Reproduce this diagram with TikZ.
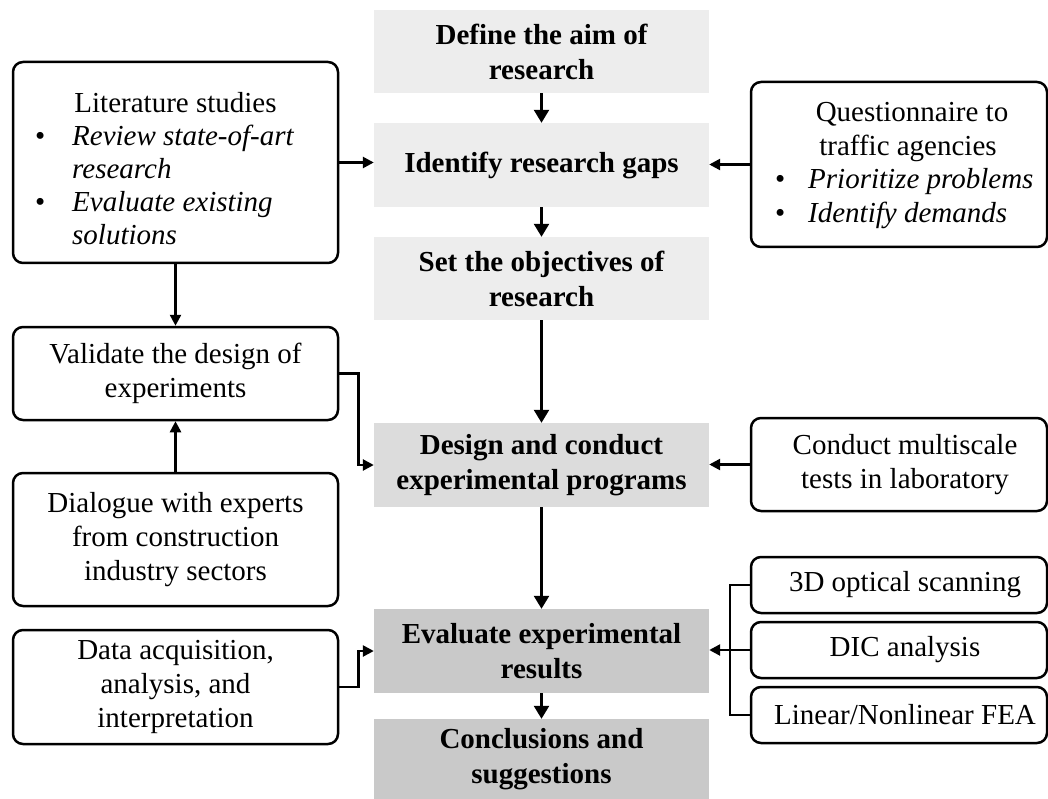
\documentclass[tikz,border=0pt]{standalone}
\usepackage{fontspec}
\setmainfont{Liberation Serif}
\usetikzlibrary{arrows.meta}
\definecolor{gA}{HTML}{EDEDED}
\definecolor{gB}{HTML}{DCDCDC}
\definecolor{gC}{HTML}{C9C9C9}
\begin{document}
\begin{tikzpicture}[x=1pt,y=-1pt,
  every node/.style={font=\fontsize{29}{34}\selectfont},
  gbox/.style={rectangle, inner sep=0pt, minimum width=335pt, align=center, font=\fontsize{29}{35}\selectfont\bfseries},
  rbox/.style={draw, line width=2.5pt, rounded corners=10pt, inner sep=0pt, align=center},
  txt/.style={inner sep=0pt, align=center},
  mainarrow/.style={line width=2.5pt, -{Triangle[length=13pt,width=15pt]}},
  sidearrow/.style={line width=2.5pt, -{Triangle[length=11pt,width=11pt]}},
  thinline/.style={line width=1.2pt}
]
\useasboundingbox (0,0) rectangle (1048,799);

% centre column
\node[gbox, fill=gA, minimum height=83pt] (b1) at (541.5,51.5) {Define the aim of\\research};
\node[gbox, fill=gA, minimum height=84pt] (b2) at (541.5,165) {Identify research gaps};
\node[gbox, fill=gA, minimum height=83pt] (b3) at (541.5,278.5) {Set the objectives of\\research};
\node[gbox, fill=gB, minimum height=84pt] (b4) at (541.5,465) {Design and conduct\\experimental programs};
\node[gbox, fill=gC, minimum height=84pt] (b5) at (541.5,651) {Evaluate experimental\\results};
\node[gbox, fill=gC, minimum height=80pt] (b6) at (541.5,759) {Conclusions and\\suggestions};

% left column
\node[rbox, minimum width=325pt, minimum height=201pt] (lit) at (175.5,162.5) {};
\node[txt, anchor=base] (litT) at (175.5,113) {Literature studies};
\node[txt, anchor=base west, font=\fontsize{29}{33}\selectfont] (litB) at (35,146) {\begin{tabular}[t]{@{}p{37pt}@{}l@{}}\textbullet & \textit{Review state-of-art}\\ & \textit{research}\\ \textbullet & \textit{Evaluate existing}\\ & \textit{solutions}\end{tabular}};
\node[rbox, minimum width=325pt, minimum height=93pt] (val) at (175.5,373.5) {Validate the design of\\experiments};
\node[rbox, minimum width=325pt, minimum height=133pt] (dia) at (175.5,539.5) {Dialogue with experts\\from construction\\industry sectors};
\node[rbox, minimum width=325pt, minimum height=114pt] (data) at (175.5,687) {Data acquisition,\\analysis, and\\interpretation};

% right column
\node[rbox, minimum width=296pt, minimum height=165pt] (q) at (899,164.5) {};
\node[txt, anchor=base] (qT1) at (912,122) {Questionnaire to};
\node[txt, anchor=base] (qT2) at (908,155.5) {traffic agencies};
\node[txt, anchor=base west, font=\fontsize{29}{33.5}\selectfont] (qB) at (775,189) {\begin{tabular}[t]{@{}p{33pt}@{}l@{}}\textbullet & \textit{Prioritize problems}\\ \textbullet & \textit{Identify demands}\end{tabular}};
\node[rbox, minimum width=296pt, minimum height=93pt] (cond) at (899,464.5) {};
\node[txt] (condT) at (905,464.5) {Conduct multiscale\\tests in laboratory};
\node[rbox, minimum width=296pt, minimum height=56pt] (scan) at (899,585) {};
\node[txt] (scanT) at (905,585) {3D optical scanning};
\node[rbox, minimum width=296pt, minimum height=56pt] (dic) at (899,650) {};
\node[txt] (dicT) at (905,650) {DIC analysis};
\node[rbox, minimum width=296pt, minimum height=56pt] (fea) at (899,715) {};
\node[txt] (feaT) at (905,715) {Linear/Nonlinear FEA};

% connectors
\draw[mainarrow] (b1) -- (b2);
\draw[mainarrow] (b2) -- (b3);
\draw[mainarrow] (b3) -- (b4);
\draw[mainarrow] (b4) -- (b5);
\draw[mainarrow] (b5) -- (b6);
\draw[sidearrow] (lit.east) -- (lit.east -| b2.west);
\draw[sidearrow] (q.west) -- (q.west -| b2.east);
\draw[sidearrow] (lit.south) -- (val.north);
\draw[sidearrow] (dia.north) -- (val.south);
\draw[sidearrow] (val.east) -- ++(19,0) |- (b4.west);
\draw[sidearrow] (cond.west) -- (cond.west -| b4.east);
\draw[sidearrow] (data.east) -- ++(19,0) |- (b5.west);
\draw[sidearrow] (dic.west) -- (dic.west -| b5.east);
\coordinate (bk) at (730,650);
\draw[thinline] (scan.west) -- (scan.west -| bk) -- (fea.west -| bk) -- (fea.west);
\end{tikzpicture}
\end{document}
